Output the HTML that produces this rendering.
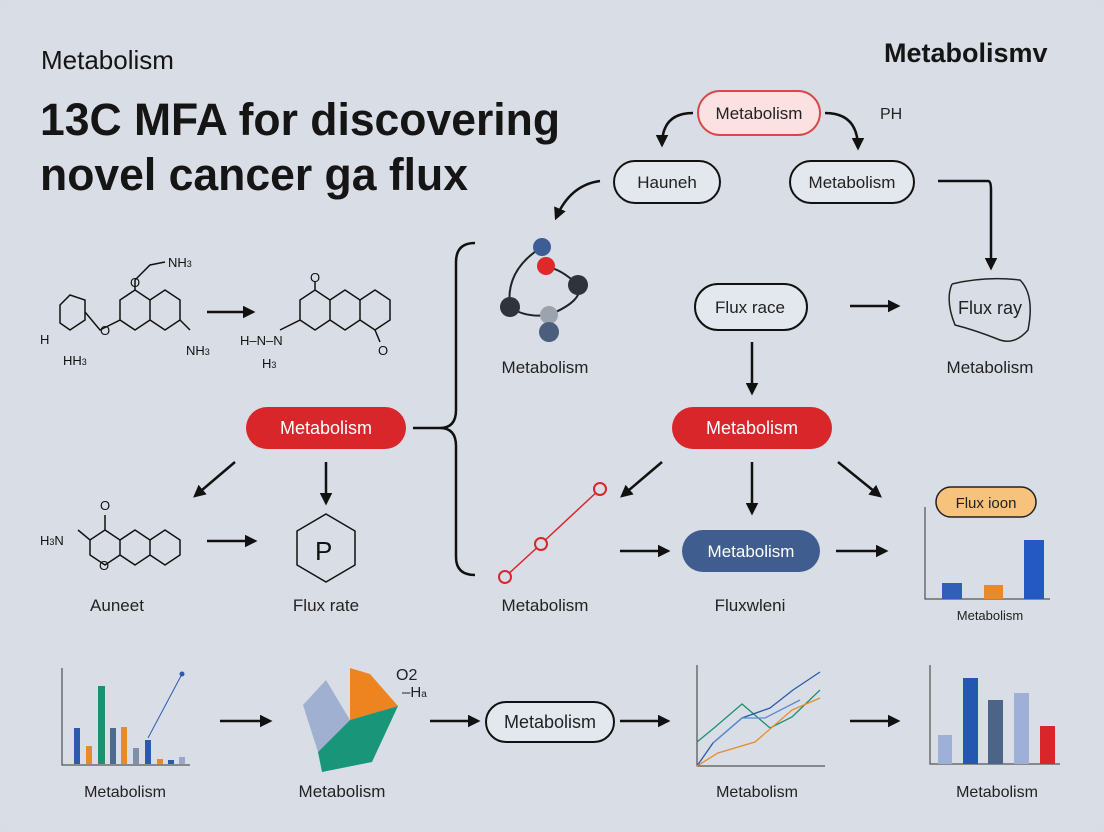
<!DOCTYPE html>
<html><head><meta charset="utf-8"><style>
html,body{margin:0;padding:0;background:#d8dde5;}
svg{display:block;font-family:"Liberation Sans",sans-serif;}
</style></head><body>
<svg width="1104" height="832" viewBox="0 0 1104 832" xmlns="http://www.w3.org/2000/svg">
<defs>
<marker id="a" viewBox="0 0 10 10" refX="8" refY="5" markerWidth="5" markerHeight="5" orient="auto-start-reverse"><path d="M0,0L10,5L0,10z" fill="#111"/></marker>
</defs>
<rect width="1104" height="832" rx="18" fill="#d9dee6"/>
<g fill="#151515">
<text x="41" y="69" font-size="26">Metabolism</text>
<text x="40" y="135" font-size="45" font-weight="bold" textLength="520" lengthAdjust="spacingAndGlyphs">13C MFA for discovering</text>
<text x="40" y="190" font-size="45" font-weight="bold" textLength="428" lengthAdjust="spacingAndGlyphs">novel cancer ga flux</text>
<text x="884" y="62" font-size="27" font-weight="bold">Metabolismv</text>
</g>
<g stroke="#111" stroke-width="2.5" fill="none" marker-end="url(#a)">
<path d="M693,113 Q662,113 662,145"/>
<path d="M825,113 Q858,113 858,148"/>
<path d="M600,181 Q570,185 556,218"/>
<path d="M938,181 L988,181 Q991,181 991,190 L991,268"/>
<path d="M850,306 L898,306"/>
<path d="M752,342 L752,393"/>
<path d="M235,462 L195,496"/>
<path d="M326,462 L326,503"/>
<path d="M662,462 L622,496"/>
<path d="M752,462 L752,513"/>
<path d="M838,462 L880,496"/>
<path d="M620,551 L668,551"/>
<path d="M836,551 L886,551"/>
<path d="M207,541 L255,541"/>
<path d="M207,312 L253,312"/>
<path d="M220,721 L270,721"/>
<path d="M430,721 L478,721"/>
<path d="M620,721 L668,721"/>
<path d="M850,721 L898,721"/>
</g>
<rect x="698" y="91" width="122" height="44" rx="22" fill="#fbe1e1" stroke="#d8484a" stroke-width="2"/>
<text x="759" y="119" font-size="17" text-anchor="middle" fill="#222">Metabolism</text>
<text x="880" y="119" font-size="16" fill="#222">PH</text>
<rect x="614" y="161" width="106" height="42" rx="21" fill="#e3e7ee" stroke="#111" stroke-width="2"/>
<text x="667" y="188" font-size="17" text-anchor="middle" fill="#222">Hauneh</text>
<rect x="790" y="161" width="124" height="42" rx="21" fill="#e3e7ee" stroke="#111" stroke-width="2"/>
<text x="852" y="188" font-size="17" text-anchor="middle" fill="#222">Metabolism</text>
<rect x="695" y="284" width="112" height="46" rx="23" fill="#e3e7ee" stroke="#111" stroke-width="2"/>
<text x="750" y="313" font-size="17" text-anchor="middle" fill="#222">Flux race</text>
<path d="M952,284 Q985,276 1020,280 Q1035,295 1028,330 Q1015,345 1000,340 Q975,330 955,325 Q945,300 952,284" fill="none" stroke="#222" stroke-width="1.5"/>
<text x="990" y="314" font-size="18" text-anchor="middle" fill="#222">Flux ray</text>
<text x="990" y="373" font-size="17" text-anchor="middle" fill="#222">Metabolism</text>
<rect x="246" y="407" width="160" height="42" rx="21" fill="#d8262b"/>
<text x="326" y="434" font-size="18" text-anchor="middle" fill="#fff">Metabolism</text>
<rect x="672" y="407" width="160" height="42" rx="21" fill="#d8262b"/>
<text x="752" y="434" font-size="18" text-anchor="middle" fill="#fff">Metabolism</text>
<rect x="682" y="530" width="138" height="42" rx="21" fill="#3f5e8f"/>
<text x="751" y="557" font-size="17" text-anchor="middle" fill="#fff">Metabolism</text>
<rect x="486" y="702" width="128" height="40" rx="20" fill="#e3e7ee" stroke="#111" stroke-width="2"/>
<text x="550" y="728" font-size="18" text-anchor="middle" fill="#222">Metabolism</text>
<path d="M475,243 Q456,243 456,262 L456,410 Q456,428 440,428 L413,428 M440,428 Q456,428 456,446 L456,557 Q456,575 475,575" fill="none" stroke="#111" stroke-width="2.5"/>
<path d="M542,247 Q505,270 510,307 Q525,318 549,315 Q585,300 578,285 Q560,268 546,267" fill="none" stroke="#222" stroke-width="2"/>
<circle cx="542" cy="247" r="9" fill="#3d5e95"/>
<circle cx="546" cy="266" r="9" fill="#e0282b"/>
<circle cx="578" cy="285" r="10" fill="#2f333c"/>
<circle cx="510" cy="307" r="10" fill="#2f333c"/>
<circle cx="549" cy="315" r="9" fill="#9ba3ae"/>
<circle cx="549" cy="332" r="10" fill="#4b5e7d"/>
<text x="545" y="373" font-size="17" text-anchor="middle" fill="#222">Metabolism</text>
<polyline points="505,577 541,544 600,489" fill="none" stroke="#d8262b" stroke-width="1.5"/>
<g fill="#d9dee6" stroke="#d8262b" stroke-width="2"><circle cx="505" cy="577" r="6"/><circle cx="541" cy="544" r="6"/><circle cx="600" cy="489" r="6"/></g>
<text x="545" y="611" font-size="17" text-anchor="middle" fill="#222">Metabolism</text>
<text x="750" y="611" font-size="17" text-anchor="middle" fill="#222">Fluxwleni</text>
<rect x="936" y="487" width="100" height="30" rx="15" fill="#f6c27c" stroke="#222" stroke-width="1.5"/>
<text x="986" y="508" font-size="15" text-anchor="middle" fill="#222">Flux ioon</text>
<path d="M925,507 L925,599 L1050,599" stroke="#333" fill="none"/>
<rect x="942" y="583" width="20" height="16" fill="#2f5fb8"/>
<rect x="984" y="585" width="19" height="14" fill="#e88a2a"/>
<rect x="1024" y="540" width="20" height="59" fill="#2459c4"/>
<text x="990" y="620" font-size="13" text-anchor="middle" fill="#222">Metabolism</text>
<g stroke="#111" stroke-width="1.5" fill="none">
<path d="M60,305 L70,295 L85,300 L85,320 L70,330 L60,323 Z"/>
<path d="M85,312 L100,330 L120,320 L120,300 L135,290 L150,300 L150,320 L135,330 L120,320"/>
<path d="M150,300 L165,290 L180,300 L180,320 L165,330 L150,320"/>
<path d="M135,290 L135,280 L150,265 L165,262"/>
<path d="M180,320 L190,330"/>
<path d="M280,330 L300,320 L300,300 L315,290 L330,300 L330,320 L315,330 L300,320"/>
<path d="M330,300 L345,290 L360,300 L360,320 L345,330 L330,320"/>
<path d="M360,300 L375,290 L390,300 L390,320 L375,330 L360,320"/>
<path d="M315,290 L315,282 M375,330 L380,342"/>
<path d="M78,530 L90,540 L105,530 L105,515 M90,540 L90,555 L105,565 L120,555 L120,540 L105,530 M120,540 L135,530 L150,540 L150,555 L135,565 L120,555"/>
<path d="M150,540 L165,530 L180,540 L180,555 L165,565 L150,555"/>
<path d="M326,514 L355,531 L355,565 L326,582 L297,565 L297,531 Z"/>
</g>
<g font-size="13" fill="#111">
<text x="40" y="344">H</text><text x="63" y="365">HH<tspan font-size="9">3</tspan></text>
<text x="100" y="335">O</text><text x="130" y="287">O</text><text x="168" y="267">NH<tspan font-size="9">3</tspan></text>
<text x="186" y="355">NH<tspan font-size="9">3</tspan></text>
<text x="240" y="345">H–N–N</text><text x="262" y="368">H<tspan font-size="9">3</tspan></text>
<text x="310" y="282">O</text><text x="378" y="355">O</text>
<text x="40" y="545">H<tspan font-size="9">3</tspan>N</text><text x="100" y="510">O</text><text x="99" y="570">O</text>
<text x="315" y="560" font-size="26">P</text>
</g>
<text x="117" y="611" font-size="17" text-anchor="middle" fill="#222">Auneet</text>
<text x="326" y="611" font-size="17" text-anchor="middle" fill="#222">Flux rate</text>
<path d="M62,668 L62,765 L190,765" stroke="#333" fill="none"/>
<rect x="74" y="728" width="6" height="36" fill="#2c5ab0"/>
<rect x="86" y="746" width="6" height="18" fill="#e88a2a"/>
<rect x="98" y="686" width="7" height="78" fill="#1f8f6e"/>
<rect x="110" y="728" width="6" height="36" fill="#4e6a8f"/>
<rect x="121" y="727" width="6" height="37" fill="#e88a2a"/>
<rect x="133" y="748" width="6" height="16" fill="#8090a8"/>
<rect x="145" y="740" width="6" height="24" fill="#2c5ab0"/>
<rect x="157" y="759" width="6" height="5" fill="#e88a2a"/>
<rect x="168" y="760" width="6" height="4" fill="#2c5ab0"/>
<rect x="179" y="757" width="6" height="7" fill="#9aa8c8"/>
<path d="M148,738 L182,674" stroke="#2c5ab0"/><circle cx="182" cy="674" r="2.5" fill="#2c5ab0"/>
<text x="125" y="797" font-size="16" text-anchor="middle" fill="#222">Metabolism</text>
<polygon points="326,680 350,720 318,752 303,705" fill="#9fb0d0"/>
<polygon points="350,668 370,674 398,706 350,720" fill="#ee8420"/>
<polygon points="350,720 398,706 372,762 322,772 318,752" fill="#199579"/>
<text x="396" y="680" font-size="16" fill="#222">O2</text>
<text x="402" y="697" font-size="15" fill="#222">–H<tspan font-size="10">a</tspan></text>
<text x="342" y="797" font-size="17" text-anchor="middle" fill="#222">Metabolism</text>
<path d="M697,665 L697,766 L825,766" stroke="#333" fill="none"/>
<polyline points="697,742 714,728 742,704 770,728 792,717 820,690" fill="none" stroke="#1f8f6e" stroke-width="1.3"/>
<polyline points="697,766 713,743 742,718 770,708 793,690 820,672" fill="none" stroke="#2c5ab0" stroke-width="1.3"/>
<polyline points="697,766 718,753 755,742 792,710 820,698" fill="none" stroke="#e88a2a" stroke-width="1.3"/>
<polyline points="713,743 742,718 765,718 800,700" fill="none" stroke="#5c8ad0" stroke-width="1.3"/>
<text x="757" y="797" font-size="16" text-anchor="middle" fill="#222">Metabolism</text>
<path d="M930,665 L930,764 L1060,764" stroke="#333" fill="none"/>
<rect x="938" y="735" width="14" height="29" fill="#9fb0d8"/>
<rect x="963" y="678" width="15" height="86" fill="#2457b0"/>
<rect x="988" y="700" width="15" height="64" fill="#4b6488"/>
<rect x="1014" y="693" width="15" height="71" fill="#9fb0d8"/>
<rect x="1040" y="726" width="15" height="38" fill="#d8262b"/>
<text x="997" y="797" font-size="16" text-anchor="middle" fill="#222">Metabolism</text>
</svg>
</body></html>
